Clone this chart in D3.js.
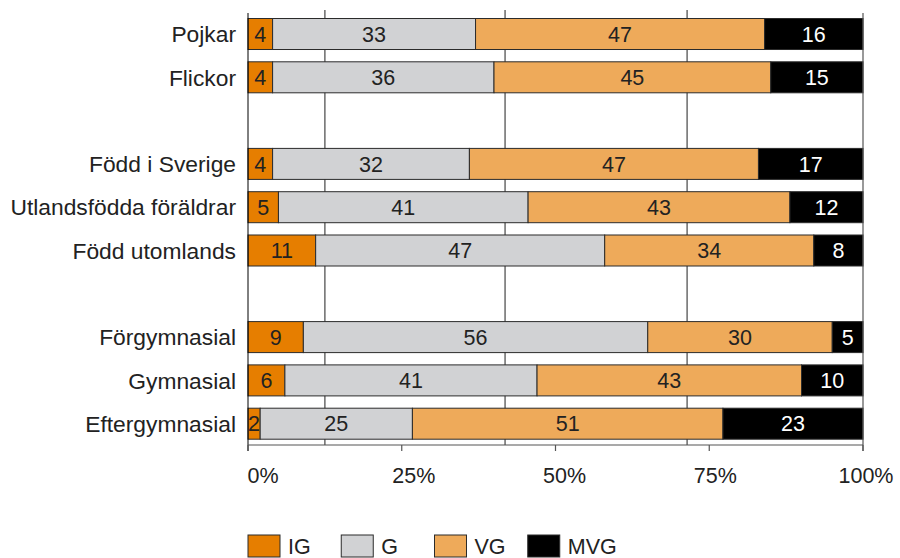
<!DOCTYPE html>
<html>
<head>
<meta charset="utf-8">
<script src="https://cdn.jsdelivr.net/npm/d3@7"></script>
<style>
  html, body { margin: 0; padding: 0; background: #fff; }
  svg { display: block; font-family: "Liberation Sans", Arial, sans-serif; }
</style>
</head>
<body>
<svg id="chart" width="900" height="558"></svg>
<script>
// Rows of the chart; null marks an empty spacer row between groups.
const categories = ["Pojkar", "Flickor", null, "Född i Sverige", "Utlandsfödda föräldrar", "Född utomlands", null, "Förgymnasial", "Gymnasial", "Eftergymnasial"];

// Grade shares per row (percent).
const IG  = [4, 4, null, 4, 5, 11, null, 9, 6, 2];
const G   = [33, 36, null, 32, 41, 47, null, 56, 41, 25];
const VG  = [47, 45, null, 47, 43, 34, null, 30, 43, 51];
const MVG = [16, 15, null, 17, 12, 8, null, 5, 10, 23];

const seriesNames = ["IG", "G", "VG", "MVG"];
const seriesColors = ["#E67E00", "#D1D2D4", "#EEAA5A", "#000000"];
const labelColors = ["#222", "#222", "#222", "#ffffff"];

const tickValues = [0, 0.25, 0.5, 0.75, 1];
const gridValues = [0.125, 0.418, 0.714];

const svg = d3.select("#chart");

const x = d3.scaleLinear().domain([0, 1]).range([248, 863]);
const y = d3.scaleBand()
  .domain(d3.range(categories.length))
  .range([12.7, 445])
  .paddingInner(0.284)
  .paddingOuter(0.134);

// Table for the stack layout: one record per non-empty row.
const rows = categories
  .map((name, i) => ({ i, name, IG: IG[i], G: G[i], VG: VG[i], MVG: MVG[i] }))
  .filter(d => d.name !== null);

const stacked = d3.stack().keys(seriesNames).offset(d3.stackOffsetExpand)(rows);

// Vertical grid lines behind the bars.
svg.append("g")
  .selectAll("line")
  .data(gridValues)
  .join("line")
  .attr("x1", d => x(d)).attr("x2", d => x(d))
  .attr("y1", 10).attr("y2", 445)
  .attr("stroke", "#6a6a6a")
  .attr("stroke-width", 1.5);

// Stacked bars.
const layers = svg.append("g")
  .selectAll("g")
  .data(stacked)
  .join("g")
  .attr("fill", (d, k) => seriesColors[k]);

layers.selectAll("rect")
  .data(d => d)
  .join("rect")
  .attr("x", d => x(d[0]))
  .attr("width", d => x(d[1]) - x(d[0]))
  .attr("y", d => y(d.data.i))
  .attr("height", y.bandwidth())
  .attr("stroke", "#2b2b2b")
  .attr("stroke-width", 1);

// Value labels inside each segment.
layers.each(function (layer, k) {
  d3.select(this).selectAll("text")
    .data(layer)
    .join("text")
    .attr("x", d => (x(d[0]) + x(d[1])) / 2)
    .attr("y", d => y(d.data.i) + y.bandwidth() / 2)
    .attr("dy", "0.36em")
    .attr("text-anchor", "middle")
    .attr("font-size", 21.5)
    .attr("fill", labelColors[k])
    .text(d => d.data[layer.key]);
});

// Category labels.
svg.append("g")
  .selectAll("text")
  .data(rows)
  .join("text")
  .attr("x", 236)
  .attr("y", d => y(d.i) + y.bandwidth() / 2)
  .attr("dy", "0.36em")
  .attr("text-anchor", "end")
  .attr("font-size", 22.8)
  .attr("fill", "#222")
  .text(d => d.name);

// Frame: left axis, right edge and baseline.
const frame = svg.append("g");
frame.append("line")
  .attr("x1", x(0)).attr("x2", x(0))
  .attr("y1", 13).attr("y2", 451)
  .attr("stroke", "#000").attr("stroke-width", 1);
frame.append("line")
  .attr("x1", x(1)).attr("x2", x(1))
  .attr("y1", 13).attr("y2", 451)
  .attr("stroke", "#555").attr("stroke-width", 1.2);
frame.append("line")
  .attr("x1", x(0)).attr("x2", x(1))
  .attr("y1", 445).attr("y2", 445)
  .attr("stroke", "#555").attr("stroke-width", 1.2);

// Bottom axis ticks.
frame.append("g")
  .selectAll("line")
  .data(tickValues)
  .join("line")
  .attr("x1", d => x(d)).attr("x2", d => x(d))
  .attr("y1", 445).attr("y2", 451)
  .attr("stroke", "#555").attr("stroke-width", 1.2);

// Tick labels.
const labelX = d3.scaleLinear().domain([0, 1]).range([x(0) + 15, x(1) + 3]);
frame.append("g")
  .selectAll("text")
  .data(tickValues)
  .join("text")
  .attr("x", d => labelX(d))
  .attr("y", 483)
  .attr("text-anchor", "middle")
  .attr("font-size", 21.5)
  .attr("fill", "#222")
  .text(d3.format(".0%"));

// Legend.
const legendX = d3.scaleBand().domain(seriesNames).range([248, 621]);
const legend = svg.append("g")
  .selectAll("g")
  .data(seriesNames)
  .join("g")
  .attr("transform", d => `translate(${legendX(d)},535)`);
legend.append("rect")
  .attr("width", 32).attr("height", 22)
  .attr("fill", (d, k) => seriesColors[k])
  .attr("stroke", "#2b2b2b").attr("stroke-width", 1);
legend.append("text")
  .attr("x", 40).attr("y", 11)
  .attr("dy", "0.36em")
  .attr("font-size", 21.5)
  .attr("fill", "#222")
  .text(d => d);
</script>
</body>
</html>
